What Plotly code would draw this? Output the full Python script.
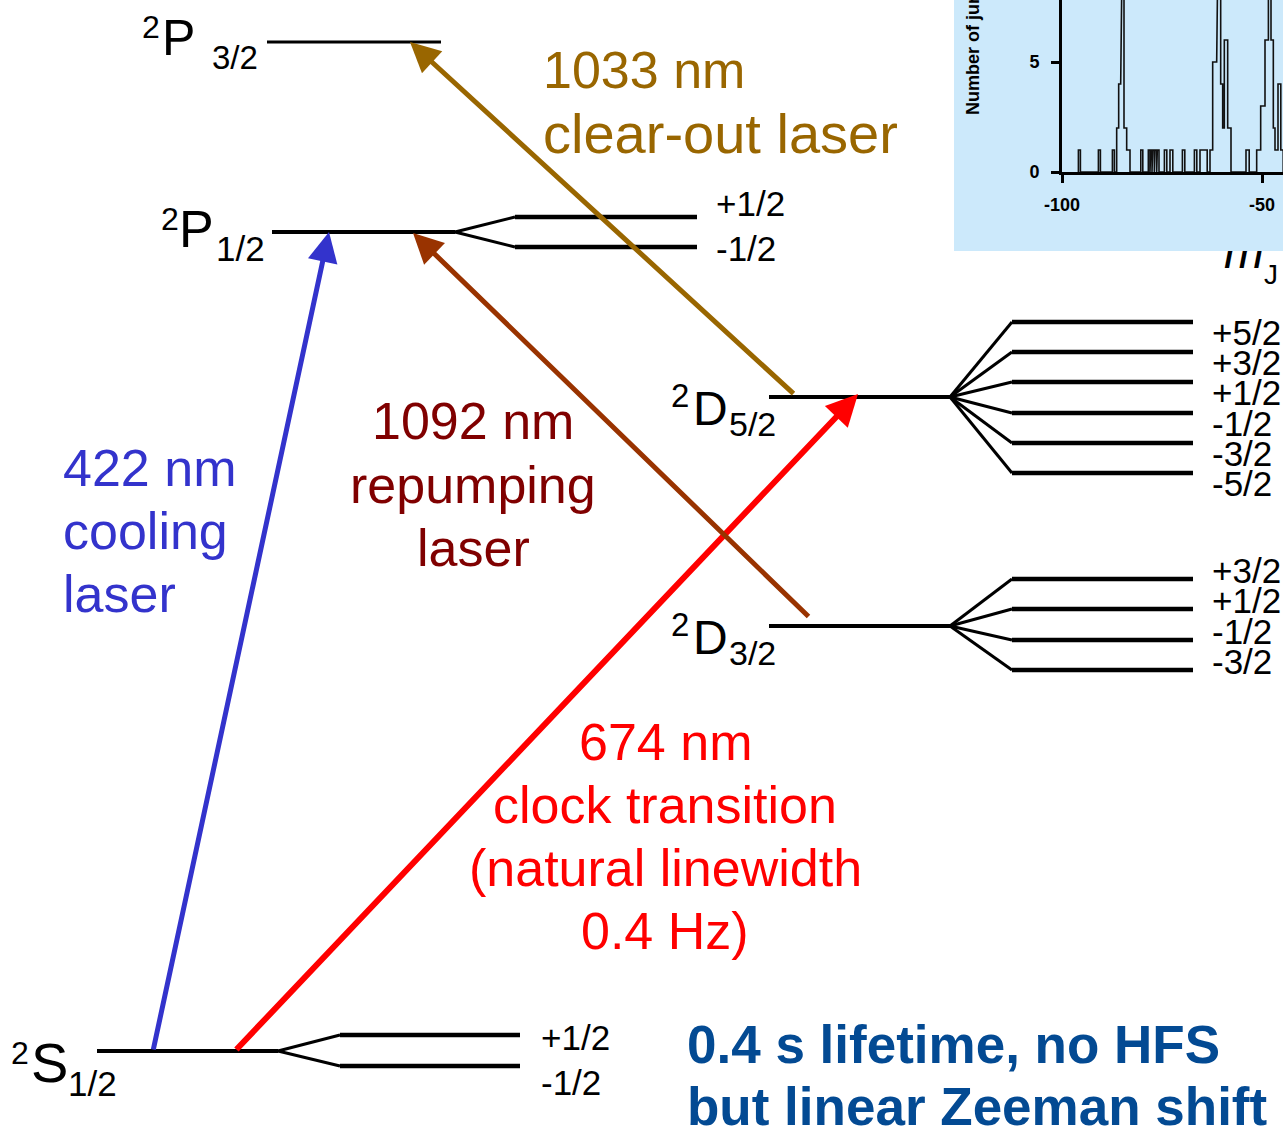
import plotly.graph_objects as go

W, H = 1283, 1129
FONT = "Liberation Sans, Arial, sans-serif"

# ======================= data =======================
# energy levels (vertical position in diagram units, downward = lower energy)
level_names = ["S1/2", "P1/2", "P3/2", "D3/2", "D5/2"]
level_energy = [1051, 232, 42, 626, 397]
level_letter = ["S", "P", "P", "D", "D"]
level_j = ["1/2", "1/2", "3/2", "3/2", "5/2"]

# Zeeman sublevels
sub_parent = ["S1/2", "P1/2", "D5/2", "D3/2"]
sub_energy = [[1035, 1066], [217, 247],
              [322, 352, 382, 413, 443, 473],
              [579, 609, 640, 670]]
sub_mj = [["+1/2", "-1/2"], ["+1/2", "-1/2"],
          ["+5/2", "+3/2", "+1/2", "-1/2", "-3/2", "-5/2"],
          ["+3/2", "+1/2", "-1/2", "-3/2"]]

# laser transitions
trans_from = ["S1/2", "S1/2", "D3/2", "D5/2"]
trans_to = ["P1/2", "D5/2", "P1/2", "P3/2"]
trans_text = [["422 nm", "cooling", "laser"],
              ["674 nm", "clock transition", "(natural linewidth", "0.4 Hz)"],
              ["1092 nm", "repumping", "laser"],
              ["1033 nm", "clear-out laser"]]

note_lines = ["0.4 s lifetime, no HFS", "but linear Zeeman shift"]

# inset histogram (quantum jumps vs detuning)
hist_left = [-95.9, -90.9, -87.4,
             -86.33, -85.83, -85.33, -84.9, -84.5, -83.83,
             -80.3,
             -78.42, -77.83, -77.33, -76.75, -76.17,
             -74.4, -73.0, -69.9, -66.9, -65.5,
             -63.0, -62.33, -61.33, -60.9, -60.33, -59.83, -59.42, -58.58,
             -54.0,
             -51.33, -50.33, -49.25, -48.4, -47.75, -47.17, -46.75, -46.0, -45.3]
hist_right = [-95.4, -90.4, -86.9,
              -85.83, -85.33, -84.9, -84.5, -83.83, -83.0,
              -79.8,
              -78.0, -77.5, -76.92, -76.33, -75.75,
              -73.8, -72.3, -69.3, -66.3, -63.7,
              -62.33, -61.33, -60.9, -60.33, -59.83, -59.42, -58.58, -57.75,
              -53.2,
              -50.33, -49.25, -48.4, -47.75, -47.17, -46.75, -46.0, -45.3, -44.7]
hist_count = [1, 1, 1,
              2, 4, 9, 11, 2, 1,
              1,
              1, 1, 1, 1, 1,
              1, 1, 1, 1, 1,
              1, 5, 9, 12, 4, 2, 6, 2,
              1,
              1, 3, 6, 12, 6, 2, 1, 4, 1]
inset_xticks = [-100, -50]
inset_xticklabels = ["-100", "-50"]
inset_yticks = [0, 5]
inset_ytitle = "Number of jumps"

# ======================= geometry / style =======================
lvl_x = {"S1/2": (97, 278), "P1/2": (272, 455), "P3/2": (267, 441),
         "D3/2": (769, 950), "D5/2": (769, 950)}
lvl_w = {"S1/2": 4, "P1/2": 4, "P3/2": 3, "D3/2": 4, "D5/2": 4}
sub_geom = {"S1/2": (340, 520, 540), "P1/2": (515, 697, 715),
            "D5/2": (1012, 1193, 1211), "D3/2": (1012, 1193, 1211)}
sub_label_dy = {"S1/2": [2, 16], "P1/2": [-14, 1],
                "D5/2": [10] * 6, "D3/2": [-9] * 4}
name_geom = {  # (x, y, size) for superscript "2", letter, subscript J
    "S1/2": [(20, 1053, 32), (49, 1062, 56), (92, 1083, 35)],
    "P1/2": [(170, 219, 32), (196, 229, 52), (240, 248, 35)],
    "P3/2": [(151, 27, 32), (178, 38, 50), (235, 57, 33)],
    "D5/2": [(680, 395, 33), (710, 408, 48), (752, 424, 34)],
    "D3/2": [(680, 624, 33), (710, 637, 48), (752, 653, 34)],
}
trans_color = ["#3333cc", "#ff0000", "#993300", "#996600"]
trans_text_color = ["#3333cc", "#ff0000", "#800000", "#996600"]
trans_lw = [5, 6, 5, 5]
trans_tail_x = [153, 235, 810, 795]
trans_tail_dy = [0, 0, -8, -2]
trans_tip_x = [329, 858, 413, 410]
trans_tip_dy = [0, -3, 1, 0]
trans_text_geom = [dict(x=62, anchor="left", y0=468, dy=63, size=[52, 52, 52]),
                   dict(x=665, anchor="center", y0=742, dy=63, size=[52, 52, 52, 52]),
                   dict(x=473, anchor="center", y0=421, dy=63.5, size=[52, 52, 52]),
                   dict(x=542, anchor="left", y0=70, dy=63, size=[52, 56])]

E = dict(zip(level_names, level_energy))

fig = go.Figure()
annotations = []


def txt(x, y, s, size, color="black", xanchor="center", **kw):
    annotations.append(dict(x=x, y=y, xref="x", yref="y", text=s, showarrow=False,
                            xanchor=xanchor, yanchor="middle", borderpad=0,
                            font=dict(family=FONT, size=size, color=color), **kw))


# ---- m_J label (under the inset panel) and inset background ----
fig.add_trace(go.Scatter(x=[1244], y=[256], mode="text", text=["<i>m</i>"],
                         textfont=dict(family=FONT, size=48, color="black"),
                         hoverinfo="skip", cliponaxis=False))
fig.add_trace(go.Scatter(x=[1271], y=[277], mode="text", text=["J"],
                         textfont=dict(family=FONT, size=28, color="black"),
                         hoverinfo="skip", cliponaxis=False))
fig.add_trace(go.Scatter(x=[954, 1290, 1290, 954, 954], y=[-5, -5, 251, 251, -5],
                         mode="lines", fill="toself", fillcolor="#cce9fb",
                         line=dict(width=0, color="#cce9fb"), hoverinfo="skip"))

# ---- main levels ----
for n in level_names:
    x0, x1 = lvl_x[n]
    fig.add_trace(go.Scatter(x=[x0, x1], y=[E[n], E[n]], mode="lines",
                             line=dict(color="black", width=lvl_w[n]), hoverinfo="skip"))

# ---- Zeeman fans and sublevels ----
fx, fy, sx, sy = [], [], [], []
for p, es, mjs in zip(sub_parent, sub_energy, sub_mj):
    xs0, xs1, xl = sub_geom[p]
    xf = lvl_x[p][1]
    for e, mj, d in zip(es, mjs, sub_label_dy[p]):
        fx += [xf, xs0, None]
        fy += [E[p], e, None]
        sx += [xs0, xs1, None]
        sy += [e, e, None]
        txt(xl, e + d, mj, 35, xanchor="left")
fig.add_trace(go.Scatter(x=fx, y=fy, mode="lines", line=dict(color="black", width=3),
                         hoverinfo="skip"))
fig.add_trace(go.Scatter(x=sx, y=sy, mode="lines", line=dict(color="black", width=4.5),
                         hoverinfo="skip"))

# ---- level names ----
for n, letter, j in zip(level_names, level_letter, level_j):
    (x1, y1, s1), (x2, y2, s2), (x3, y3, s3) = name_geom[n]
    txt(x1, y1, "2", s1)
    txt(x2, y2, letter, s2)
    txt(x3, y3, j, s3)

# ---- transitions ----
for i in range(len(trans_from)):
    annotations.append(dict(
        x=trans_tip_x[i], y=E[trans_to[i]] + trans_tip_dy[i],
        ax=trans_tail_x[i], ay=E[trans_from[i]] + trans_tail_dy[i],
        xref="x", yref="y", axref="x", ayref="y", text="", showarrow=True,
        arrowhead=2, arrowsize=1.2 if i != 1 else 1.05, arrowwidth=trans_lw[i],
        arrowcolor=trans_color[i], standoff=0, startstandoff=0))
    g = trans_text_geom[i]
    for k, line in enumerate(trans_text[i]):
        txt(g["x"], g["y0"] + k * g["dy"], line, g["size"][k], trans_text_color[i],
            xanchor=g["anchor"])

# ---- note ----
for k, line in enumerate(note_lines):
    txt(686, 1044 + k * 62, "<b>" + line + "</b>", 53, "#034a93", xanchor="left")

# ---- inset histogram ----
hx, hy = [], []
prev_r = None
for l, r, c in zip(hist_left, hist_right, hist_count):
    if prev_r is None or abs(l - prev_r) > 1e-6:
        if prev_r is not None:
            hx.append(prev_r)
            hy.append(0)
        hx.append(l)
        hy.append(0)
    hx += [l, r]
    hy += [c, c]
    prev_r = r
hx.append(prev_r)
hy.append(0)
fig.add_trace(go.Scatter(x=hx, y=hy, mode="lines", xaxis="x2", yaxis="y2",
                         line=dict(color="#111111", width=1.6), hoverinfo="skip"))

annotations.append(dict(x=973, y=41, xref="x", yref="y", text="<b>" + inset_ytitle + "</b>",
                        textangle=-90, showarrow=False, xanchor="center", yanchor="middle",
                        font=dict(family=FONT, size=18, color="black")))

inset_axis = dict(showline=True, linecolor="black", linewidth=3, ticks="outside",
                  ticklen=8, tickwidth=2.5, tickcolor="black", showgrid=False, zeroline=False,
                  tickfont=dict(family=FONT, size=18, color="black", weight="bold"),
                  fixedrange=True, automargin=False)

fig.update_layout(
    width=W, height=H, margin=dict(l=0, r=0, t=0, b=0, pad=0, autoexpand=False),
    paper_bgcolor="white", plot_bgcolor="rgba(0,0,0,0)", showlegend=False,
    xaxis=dict(range=[0, W], visible=False, domain=[0, 1], fixedrange=True, automargin=False),
    yaxis=dict(range=[H, 0], visible=False, domain=[0, 1], fixedrange=True, automargin=False),
    xaxis2=dict(domain=[1062 / W, 1], anchor="y2", range=[-100, -44.75],
                tickvals=inset_xticks, ticktext=inset_xticklabels,
                ticklabelstandoff=6, **inset_axis),
    yaxis2=dict(domain=[1 - 172 / H, 1], anchor="x2", range=[0, 172 / 22],
                tickvals=inset_yticks, ticklabelstandoff=8, **inset_axis),
    annotations=annotations,
)

fig.write_html("out.html")
